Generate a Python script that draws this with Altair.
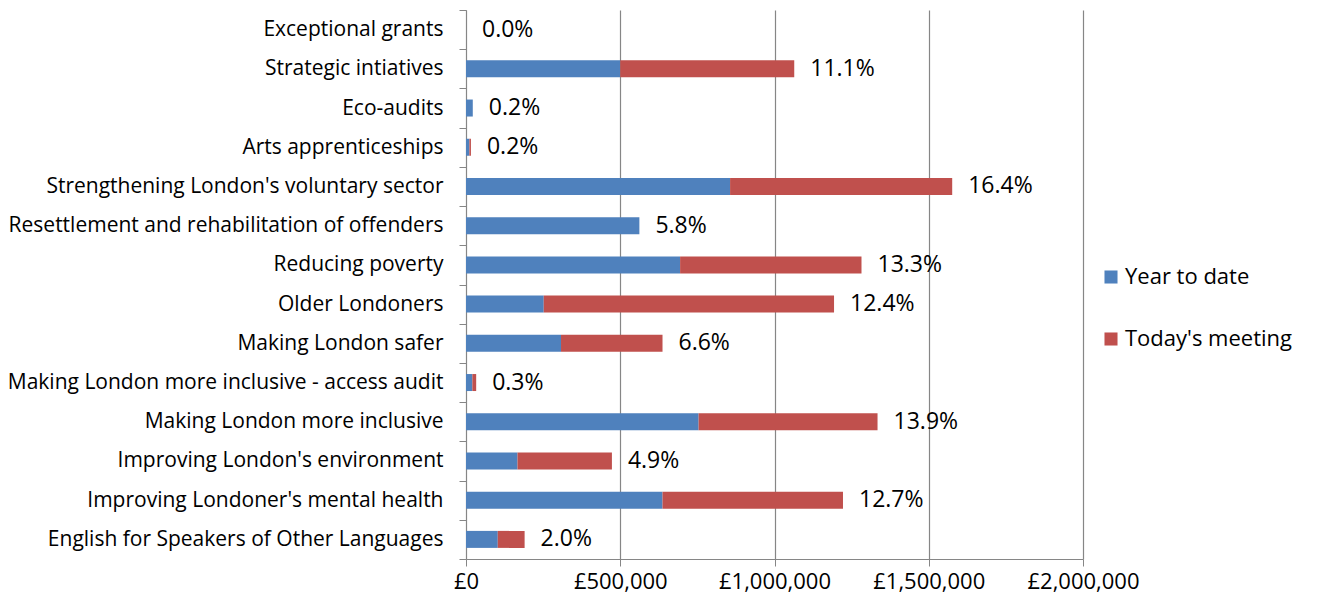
import altair as alt
import pandas as pd

categories = [
    "Exceptional grants",
    "Strategic intiatives",
    "Eco-audits",
    "Arts apprenticeships",
    "Strengthening London's voluntary sector",
    "Resettlement and rehabilitation of offenders",
    "Reducing poverty",
    "Older Londoners",
    "Making London safer",
    "Making London more inclusive - access audit",
    "Making London more inclusive",
    "Improving London's environment",
    "Improving Londoner's mental health",
    "English for Speakers of Other Languages",
]
year_to_date = [0, 500000, 22000, 11000, 856000, 562000, 694000, 252000,
                308000, 20500, 754000, 167000, 637000, 103000]
todays_meeting = [0, 564000, 0, 5000, 720000, 0, 588000, 941000,
                  329000, 12500, 580000, 306000, 585000, 87000]
share_labels = ["0.0%", "11.1%", "0.2%", "0.2%", "16.4%", "5.8%", "13.3%",
                "12.4%", "6.6%", "0.3%", "13.9%", "4.9%", "12.7%", "2.0%"]
series_names = ["Year to date", "Today's meeting"]
series_colors = ["#4F81BD", "#C0504D"]
x_ticks = [0, 500000, 1000000, 1500000, 2000000]

rows = []
for c, a, b in zip(categories, year_to_date, todays_meeting):
    rows.append({"category": c, "series": series_names[0], "amount": a, "order": 0})
    rows.append({"category": c, "series": series_names[1], "amount": b, "order": 1})
bars_df = pd.DataFrame(rows)
labels_df = pd.DataFrame({
    "category": categories,
    "total": [a + b for a, b in zip(year_to_date, todays_meeting)],
    "label": share_labels,
})

FONT = "Open Sans"
GRAY = "#868686"

y_enc = alt.Y(
    "category:N", sort=categories, title=None,
    scale=alt.Scale(paddingInner=0, paddingOuter=0),
    axis=alt.Axis(
        labelFontSize=21, labelFont=FONT, labelColor="#000000",
        labelPadding=16, labelLimit=800, tickSize=7, tickColor=GRAY,
        domainColor=GRAY, tickBand="extent", grid=False,
    ),
)
x_scale = alt.Scale(domain=[0, 2000000], nice=False)

bars = alt.Chart(bars_df).mark_bar(size=17).encode(
    x=alt.X(
        "amount:Q", stack="zero", scale=x_scale, title=None,
        axis=alt.Axis(
            values=x_ticks, labelExpr="'£' + format(datum.value, ',')",
            labelFontSize=22, labelFont=FONT, labelColor="#000000",
            labelPadding=5, tickSize=7, tickColor=GRAY, domainColor=GRAY,
            labelOverlap=False, labelFlush=False, labelAlign="center",
            grid=True, gridColor=GRAY, gridWidth=1.2,
        ),
    ),
    y=y_enc,
    color=alt.Color(
        "series:N",
        scale=alt.Scale(domain=series_names, range=series_colors),
        legend=alt.Legend(
            orient="none", legendX=634, legendY=256, title=None,
            symbolType="square", symbolSize=170, symbolStrokeWidth=0,
            labelFontSize=22, labelFont=FONT, labelColor="#000000",
            labelLimit=400, rowPadding=40, labelOffset=3,
        ),
    ),
    order=alt.Order("order:Q"),
)

texts = alt.Chart(labels_df).mark_text(
    align="left", baseline="middle", dx=16, fontSize=23, font=FONT, color="#000000"
).encode(
    x=alt.X("total:Q", scale=x_scale),
    y=alt.Y("category:N", sort=categories),
    text="label:N",
)

chart = (bars + texts).properties(
    width=617, height=549,
    autosize=alt.AutoSizeParams(type="none"),
    padding={"left": 458, "top": 2, "right": 228, "bottom": 38},
).configure_view(stroke=None)

chart.save("out.html", embed_options={"renderer": "svg", "actions": False})
